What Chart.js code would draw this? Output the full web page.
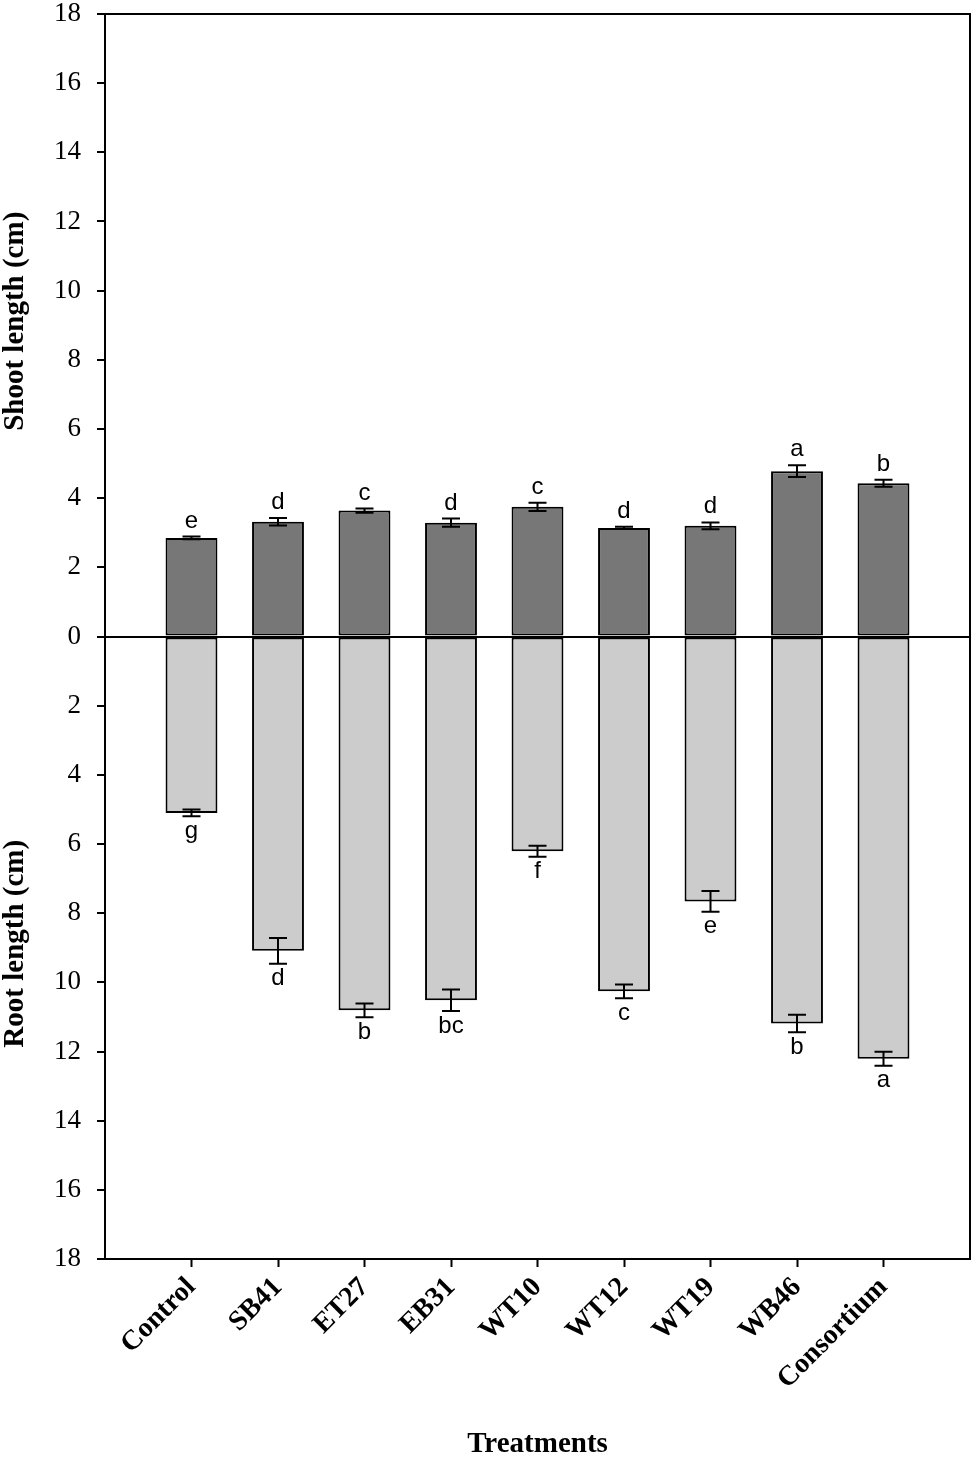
<!DOCTYPE html>
<html>
<head>
<meta charset="utf-8">
<script src="https://cdn.jsdelivr.net/npm/chart.js@4/dist/chart.umd.min.js"></script>
<style>
  html, body { margin: 0; padding: 0; background: #fff; }
  #wrap { width: 975px; height: 1464px; }
</style>
</head>
<body>
<div id="wrap"><canvas id="myChart" width="975" height="1464"></canvas></div>
<script>
const categories = ['Control', 'SB41', 'ET27', 'EB31', 'WT10', 'WT12', 'WT19', 'WB46', 'Consortium'];

const shootLength = [2.85, 3.32, 3.64, 3.29, 3.75, 3.14, 3.2, 4.78, 4.43];
const shootError = [0.04, 0.11, 0.06, 0.12, 0.12, 0.03, 0.1, 0.17, 0.1];
const shootLetters = ['e', 'd', 'c', 'd', 'c', 'd', 'd', 'a', 'b'];

const rootLength = [5.1, 9.09, 10.81, 10.52, 6.21, 10.26, 7.66, 11.19, 12.21];
const rootError = [0.1, 0.37, 0.2, 0.31, 0.16, 0.2, 0.3, 0.25, 0.2];
const rootLetters = ['g', 'd', 'b', 'bc', 'f', 'c', 'e', 'b', 'a'];

const yTicks = [0, 2, 4, 6, 8, 10, 12, 14, 16, 18];

// empty slot at each end so the bars sit at 1..9 on a 0..10 axis
const labels = [''].concat(categories, ['']);
const pad = arr => [null].concat(arr, [null]);

const serif = '"Liberation Serif", "Times New Roman", serif';

const ctx = document.getElementById('myChart').getContext('2d');

// error bars + letters, placed through the scales
const errorBars = {
    id: 'errorBars',
    afterDatasetsDraw(chart) {
        const c = chart.ctx;
        const y = chart.scales.y;
        const sets = [
            { idx: 0, vals: shootLength, errs: shootError, letters: shootLetters, sign: 1 },
            { idx: 1, vals: rootLength, errs: rootError, letters: rootLetters, sign: -1 },
        ];
        c.save();
        c.strokeStyle = '#000';
        c.lineWidth = 2;
        c.fillStyle = '#000';
        c.font = '24px "Liberation Sans", Arial, sans-serif';
        c.textAlign = 'center';
        sets.forEach(s => {
            const meta = chart.getDatasetMeta(s.idx);
            s.vals.forEach((v, i) => {
                const bar = meta.data[i + 1];
                const x = bar.x;
                const top = y.getPixelForValue(s.sign * (v + s.errs[i]));
                const bot = y.getPixelForValue(s.sign * (v - s.errs[i]));
                c.beginPath();
                c.moveTo(x, top); c.lineTo(x, bot);
                c.moveTo(x - 9, top); c.lineTo(x + 9, top);
                c.moveTo(x - 9, bot); c.lineTo(x + 9, bot);
                c.stroke();
                if (s.sign > 0) {
                    c.textBaseline = 'alphabetic';
                    c.fillText(s.letters[i], x, top - 9);
                } else {
                    c.textBaseline = 'top';
                    c.fillText(s.letters[i], x, top + 3);
                }
            });
        });
        c.restore();
    },
};

// top/right frame and the two y titles
const frame = {
    id: 'frame',
    afterDraw(chart) {
        const a = chart.chartArea;
        const c = chart.ctx;
        const y = chart.scales.y;
        c.save();
        c.strokeStyle = '#000';
        c.lineWidth = 2;
        c.beginPath();
        c.moveTo(a.left, a.top);
        c.lineTo(a.right, a.top);
        c.lineTo(a.right, a.bottom);
        c.stroke();
        c.restore();
        [['Shoot length (cm)', 9], ['Root length (cm)', -9]].forEach(t => {
            c.save();
            c.fillStyle = '#000';
            c.font = 'bold 29px ' + serif;
            c.textAlign = 'center';
            c.textBaseline = 'middle';
            c.translate(16, y.getPixelForValue(t[1]) - 4);
            c.rotate(-Math.PI / 2);
            c.fillText(t[0], 0, 0);
            c.restore();
        });
    },
};

const chart = new Chart(ctx, {
    type: 'bar',
    data: {
        labels: labels,
        datasets: [{
            label: 'Shoot length',
            data: pad(shootLength),
            backgroundColor: '#777777',
            borderColor: '#000',
            borderWidth: 2,
            borderSkipped: false,
        }, {
            label: 'Root length',
            data: pad(rootLength.map(v => -v)),
            backgroundColor: '#cccccc',
            borderColor: '#000',
            borderWidth: 2,
            borderSkipped: false,
        }],
    },
    options: {
        responsive: false,
        animation: false,
        devicePixelRatio: 1,
        layout: { padding: { top: 14, right: 5, left: 0, bottom: 0 } },
        plugins: {
            legend: { display: false },
            tooltip: { enabled: false },
        },
        datasets: {
            bar: { barPercentage: 0.6, categoryPercentage: 1 },
        },
        scales: {
            x: {
                stacked: true,
                offset: false,
                afterFit(scale) {
                    scale.height = 205;
                    scale.paddingLeft = 0;
                    scale.paddingRight = 0;
                },
                grid: {
                    offset: false,
                    drawOnChartArea: false,
                    tickLength: 8,
                    tickWidth: 2,
                    tickColor: c => (c.index === 0 || c.index === labels.length - 1) ? 'rgba(0,0,0,0)' : '#000',
                },
                border: { display: true, color: '#000', width: 2 },
                ticks: {
                    autoSkip: false,
                    minRotation: 45,
                    maxRotation: 45,
                    padding: 4,
                    color: '#000',
                    font: { family: serif, size: 28, weight: 'bold' },
                },
                title: {
                    display: true,
                    text: 'Treatments',
                    color: '#000',
                    padding: { top: 0, bottom: 2 },
                    font: { family: serif, size: 29, weight: 'bold' },
                },
            },
            y: {
                stacked: true,
                min: -18,
                max: 18,
                afterFit(scale) {
                    scale.width = 105;
                    scale.paddingTop = 0;
                    scale.paddingBottom = 0;
                },
                afterBuildTicks(scale) {
                    scale.ticks = yTicks.concat(yTicks.slice(1).map(v => -v)).sort((a, b) => a - b).map(v => ({ value: v }));
                },
                grid: {
                    drawOnChartArea: true,
                    color: c => (c.tick && c.tick.value === 0) ? '#000' : 'rgba(0,0,0,0)',
                    lineWidth: 2,
                    tickLength: 8,
                    tickWidth: 2,
                    tickColor: '#000',
                },
                border: { display: true, color: '#000', width: 2 },
                ticks: {
                    padding: 16,
                    color: '#000',
                    callback: v => Math.abs(v),
                    font: { family: serif, size: 27 },
                },
            },
        },
    },
    plugins: [errorBars, frame],
});
</script>
</body>
</html>
